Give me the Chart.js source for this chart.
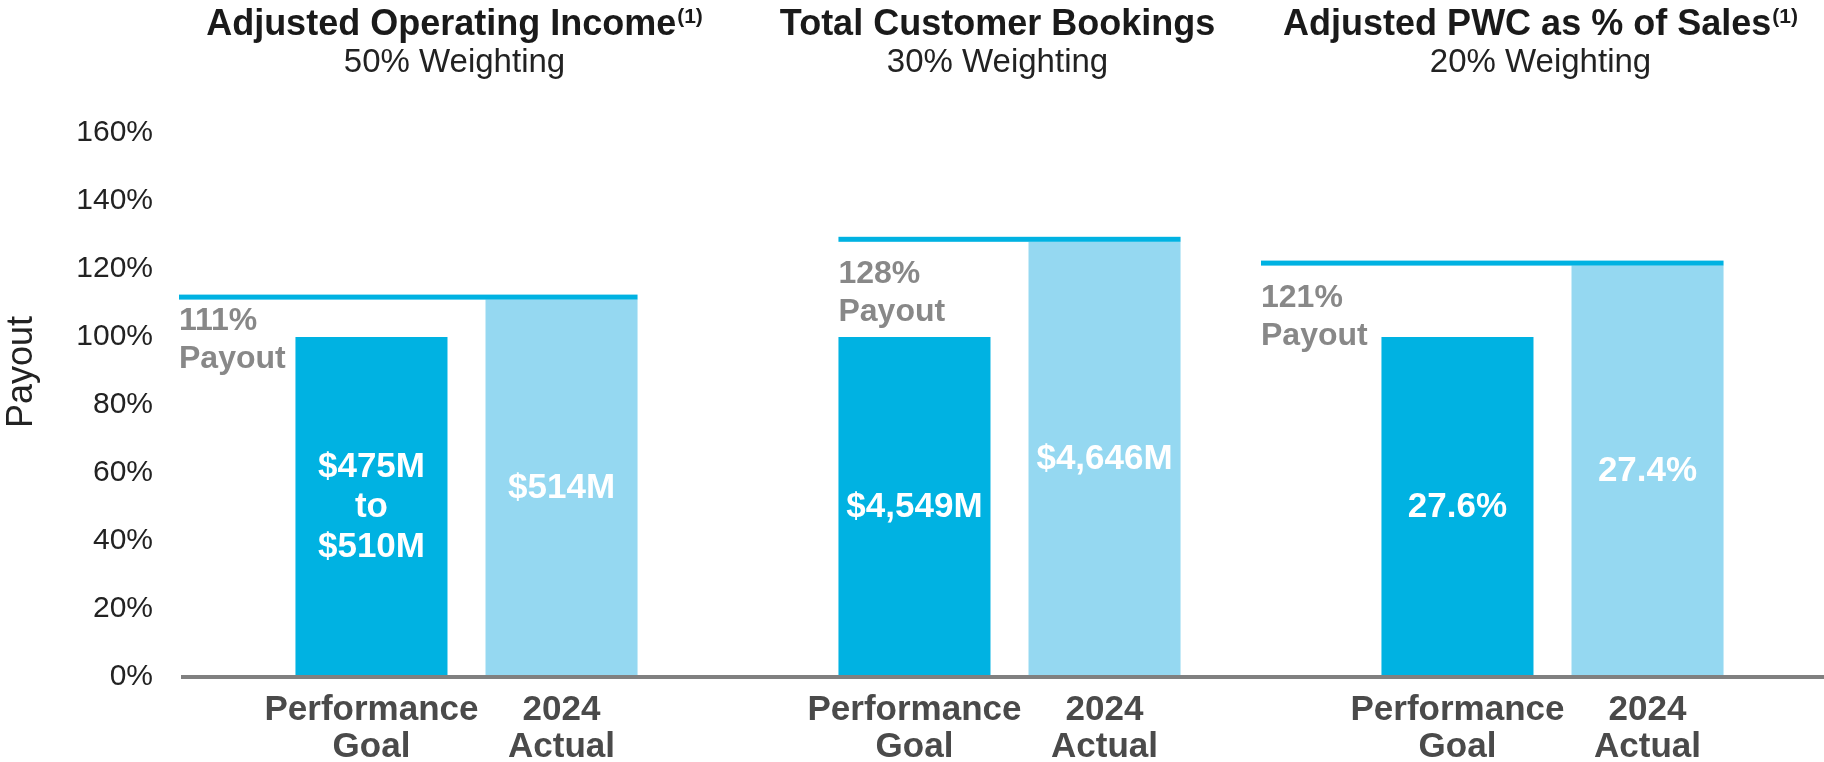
<!DOCTYPE html>
<html>
<head>
<meta charset="utf-8">
<script src="https://cdn.jsdelivr.net/npm/chart.js@4.4.1/dist/chart.umd.min.js"></script>
<style>
  html, body { margin: 0; padding: 0; background: #fff; }
  #wrap { width: 1824px; height: 762px; }
</style>
</head>
<body>
<div id="wrap"><canvas id="payoutChart"></canvas></div>
<script>
// ─── Chart data ──────────────────────────────────────────────────────────────
const categories   = ['Adjusted Operating Income', 'Total Customer Bookings', 'Adjusted PWC as % of Sales'];
const footnoted    = [true, false, true];
const weightings   = ['50% Weighting', '30% Weighting', '20% Weighting'];
const goalPayout   = [100, 100, 100];
const actualPayout = [111, 128, 121];
const goalText     = [['$475M', 'to', '$510M'], ['$4,549M'], ['27.6%']];
const actualText   = [['$514M'], ['$4,646M'], ['27.4%']];
const seriesLabels = [['Performance', 'Goal'], ['2024', 'Actual']];
const yMin = 0, yMax = 160, yStep = 20;

const FONT = "'Liberation Sans', Arial, sans-serif";
const BLUE = '#00b2e2';
const LIGHT_BLUE = '#95d8f1';

function lines(ctx, arr, x, yCenter, lh) {
    const top = yCenter - (arr.length - 1) * lh / 2;
    arr.forEach((t, k) => ctx.fillText(t, x, top + k * lh));
}

// ─── Headings, payout lines and labels ───────────────────────────────────────
const overlay = {
    id: 'overlay',
    afterDatasetsDraw(chart) {
        const ctx = chart.ctx;
        const xs = chart.scales.x, ys = chart.scales.y;
        const goal = chart.getDatasetMeta(0).data;
        const act = chart.getDatasetMeta(1).data;
        const cw = xs.width / categories.length;
        ctx.save();

        // baseline (runs a little left of the plot area)
        ctx.fillStyle = '#808080';
        ctx.fillRect(181, ys.getPixelForValue(0) - 2, chart.width - 181, 4);

        // y axis caption
        ctx.save();
        ctx.translate(22, 372);
        ctx.rotate(-Math.PI / 2);
        ctx.fillStyle = '#222';
        ctx.font = '36px ' + FONT;
        ctx.textAlign = 'center';
        ctx.textBaseline = 'middle';
        ctx.fillText('Payout', 0, 0);
        ctx.restore();

        categories.forEach(function (name, i) {
            const cx = xs.getPixelForValue(i) - 12;

            // heading + superscript
            ctx.textBaseline = 'alphabetic';
            ctx.fillStyle = '#1a1a1a';
            ctx.font = 'bold 36px ' + FONT;
            const w = ctx.measureText(name).width;
            ctx.font = 'bold 21px ' + FONT;
            const sw = footnoted[i] ? ctx.measureText('(1)').width + 1 : 0;
            const left = cx - (w + sw) / 2;
            ctx.textAlign = 'left';
            ctx.font = 'bold 36px ' + FONT;
            ctx.fillText(name, left, 35);
            if (footnoted[i]) {
                ctx.font = 'bold 21px ' + FONT;
                ctx.fillText('(1)', left + w + 1, 23);
            }
            ctx.textAlign = 'center';
            ctx.font = '33px ' + FONT;
            ctx.fillStyle = '#222';
            ctx.fillText(weightings[i], cx, 72);

            // payout line
            const g = goal[i], a = act[i];
            const ly = ys.getPixelForValue(actualPayout[i]);
            const catLeft = xs.getPixelForValue(i) - cw / 2;
            const x0 = i === 1 ? g.x - g.width / 2 : catLeft - (i === 0 ? 16 : 20);
            const x1 = a.x + a.width / 2;
            ctx.fillStyle = BLUE;
            ctx.fillRect(x0, ly - 5, x1 - x0, 5);

            const dy = i === 0 ? -11 : 0;
            ctx.fillStyle = '#888888';
            ctx.font = 'bold 32px ' + FONT;
            ctx.textAlign = 'left';
            ctx.fillText(actualPayout[i] + '%', x0, ly + 41 + dy);
            ctx.fillText('Payout', x0, ly + 79 + dy);

            // values inside bars
            ctx.fillStyle = '#ffffff';
            ctx.font = 'bold 35px ' + FONT;
            ctx.textAlign = 'center';
            ctx.textBaseline = 'middle';
            lines(ctx, goalText[i], g.x, (g.y + g.base) / 2, 40);
            lines(ctx, actualText[i], a.x, (a.y + a.base) / 2, 40);

            // series labels under the axis
            ctx.fillStyle = '#4a4a4a';
            ctx.font = 'bold 35px ' + FONT;
            ctx.textBaseline = 'alphabetic';
            [g, a].forEach(function (bar, s) {
                seriesLabels[s].forEach((t, k) => ctx.fillText(t, bar.x, 720 + k * 37));
            });
        });
        ctx.restore();
    }
};

new Chart(document.getElementById('payoutChart'), {
    type: 'bar',
    data: {
        labels: categories,
        datasets: [
            { label: 'Performance Goal', data: goalPayout, backgroundColor: BLUE },
            { label: '2024 Actual', data: actualPayout, backgroundColor: LIGHT_BLUE }
        ]
    },
    options: {
        responsive: true,
        maintainAspectRatio: false,
        animation: false,
        categoryPercentage: 0.70,
        barPercentage: 0.80,
        layout: { padding: { top: 133, right: 0, left: 0, bottom: 0 } },
        plugins: { legend: { display: false }, tooltip: { enabled: false } },
        scales: {
            x: {
                ticks: { display: false },
                grid: { display: false },
                border: { display: false },
                afterFit: function (s) { s.height = 85; }
            },
            y: {
                min: yMin,
                max: yMax,
                ticks: {
                    stepSize: yStep,
                    padding: 42,
                    color: '#222',
                    font: { family: FONT, size: 30 },
                    callback: v => v + '%'
                },
                grid: { display: false, drawTicks: false },
                border: { display: false },
                afterFit: function (s) { s.width = 195; }
            }
        }
    },
    plugins: [overlay]
});
</script>
</body>
</html>
